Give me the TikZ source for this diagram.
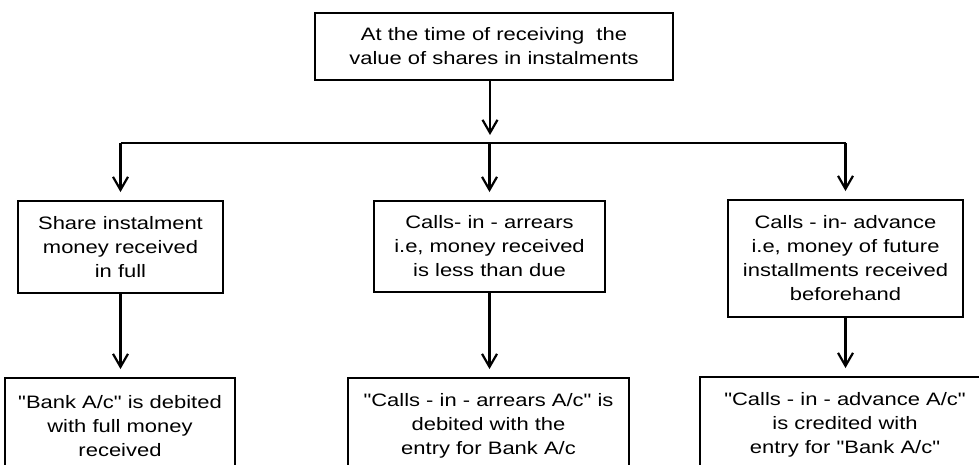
\documentclass[tikz,border=0pt]{standalone}
\usepackage{fontspec}
\setmainfont{Liberation Sans}[FakeStretch=1.22,Ligatures=TeXOff]
\usetikzlibrary{positioning,arrows.meta}

\begin{document}
\begin{tikzpicture}[
x=1pt,y=-1pt,
box/.style={
  draw,
  line width=1.9pt,
  align=center,
  inner sep=0pt,
  font=\fontsize{18}{24}\selectfont
  },
link/.style={
  line width=2.2pt,
  shorten >=8pt
  },
>={Straight Barb[length=13pt,width=15pt]}
]
\useasboundingbox (0,0) rectangle (979,464);
\clip (0,0) rectangle (979,464);

\node[box,minimum width=358,minimum height=67] (recv) at (494,46.5)
  {At the time of receiving\ \ the\\value of shares in instalments};

\node[box,minimum width=205,minimum height=92] (full) at (120.5,247)
  {Share instalment\\money received\\in full};
\node[box,minimum width=231,minimum height=91] (arrears) at (489.5,246.5)
  {Calls- in - arrears\\i.e, money received\\is less than due};
\node[box,minimum width=235,minimum height=117] (advance) at (845.5,258.5)
  {Calls - in- advance\\i.e, money of future\\installments received\\beforehand};

\node[box,minimum width=230,minimum height=96] (bankdr) at (120,426)
  {"Bank A/c" is debited\\with full money\\received};
\node[box,minimum width=281,minimum height=96] (arrearsdr) at (488.5,426)
  {"Calls - in - arrears A/c" is\\debited with the\\entry for Bank A/c};
\node[box,minimum width=290,minimum height=96] (advancecr) at (845,425)
  {"Calls - in - advance A/c"\\is credited with\\entry for "Bank A/c"};

\coordinate (bar) at (490,143);
\draw[link,->] (recv.south -| bar) -- (bar);
\draw[line width=2.2pt] (full.north |- bar) -- (advance.north |- bar);
\foreach \a in {full,arrears,advance}
  \draw[link,->] (\a.north |- bar) -- (\a.north);

\foreach \a/\b in {full/bankdr,arrears/arrearsdr,advance/advancecr}
  \draw[link,->] (\a.south) -- (\a.south |- \b.north);

\end{tikzpicture}
\end{document}
